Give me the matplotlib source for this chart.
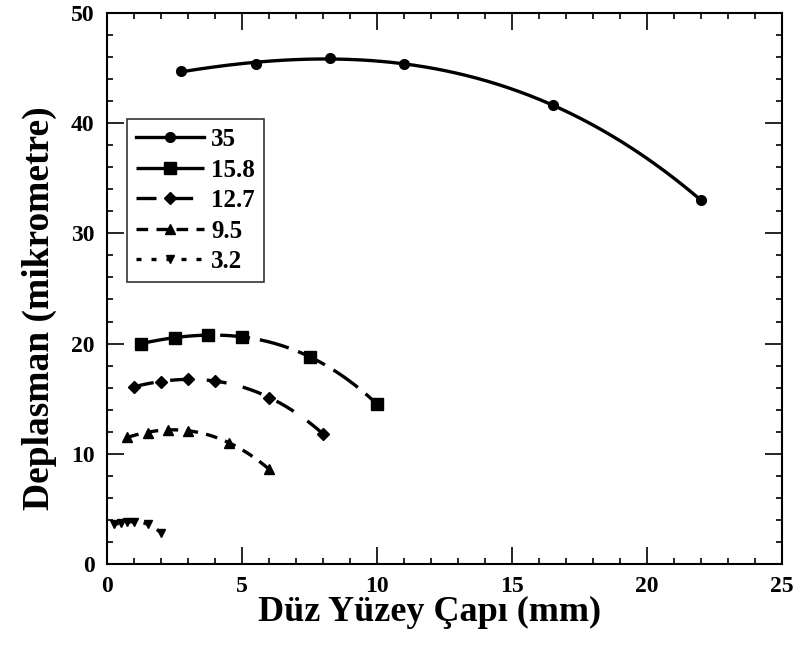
import numpy as np
import matplotlib
matplotlib.use("Agg")
import matplotlib.pyplot as plt
from matplotlib.ticker import MultipleLocator

plt.rcParams['font.family'] = ['Liberation Serif', 'DejaVu Serif']
plt.rcParams['font.weight'] = 'bold'

# Displacement vs. flat surface diameter, one series per load label
labels = ["35", "15.8", "12.7", "9.5", "3.2"]
x_35 = [2.75, 5.5, 8.25, 11.0, 16.5, 22.0]
y_35 = [44.7, 45.4, 45.9, 45.4, 41.6, 33.0]
x_158 = [1.25, 2.5, 3.75, 5.0, 7.5, 10.0]
y_158 = [20.0, 20.5, 20.8, 20.6, 18.8, 14.5]
x_127 = [1.0, 2.0, 3.0, 4.0, 6.0, 8.0]
y_127 = [16.1, 16.5, 16.8, 16.6, 15.1, 11.8]
x_95 = [0.75, 1.5, 2.25, 3.0, 4.5, 6.0]
y_95 = [11.5, 11.9, 12.2, 12.1, 11.0, 8.6]
x_32 = [0.25, 0.5, 0.75, 1.0, 1.5, 2.0]
y_32 = [3.6, 3.7, 3.8, 3.85, 3.6, 2.8]

xs = [x_35, x_158, x_127, x_95, x_32]
ys = [y_35, y_158, y_127, y_95, y_32]
markers = ['o', 's', 'D', '^', 'v']
msizes = [7, 8, 6, 7, 6]
dashes = [None, (9, 3), (6, 5), (3.5, 2.5), (1.5, 3)]

fig = plt.figure(figsize=(7.99, 6.46), dpi=100)
ax = fig.add_axes([0.134, 0.127, 0.845, 0.853])

for lab, x, y, m, ms, d in zip(labels, xs, ys, markers, msizes, dashes):
    x = np.asarray(x)
    y = np.asarray(y)
    # smooth trend curve fitted through each series
    coef = np.polyfit(x, y, 3)
    xf = np.linspace(x.min(), x.max(), 200)
    yf = np.polyval(coef, xf)
    line, = ax.plot(xf, yf, color='black', lw=2.4, zorder=3)
    if d is not None:
        line.set_dashes(d)
    ax.plot(x, y, linestyle='none', marker=m, ms=ms, color='black', zorder=2)
    # legend proxy: line with marker in the middle
    h, = ax.plot([], [], color='black', lw=2.4, marker=m, ms=ms, label=lab)
    if d is not None:
        h.set_dashes(d)

ax.set_xlim(0, 25)
ax.set_ylim(0, 50)
ax.xaxis.set_major_locator(MultipleLocator(5))
ax.xaxis.set_minor_locator(MultipleLocator(1))
ax.yaxis.set_major_locator(MultipleLocator(10))
ax.yaxis.set_minor_locator(MultipleLocator(2))
ax.tick_params(which='both', direction='in', top=True, right=True, width=1.2)
ax.tick_params(which='major', length=12, labelsize=17, pad=9)
ax.tick_params(which='minor', length=4)
for t in ax.get_xticklabels() + ax.get_yticklabels():
    t.set_fontweight('bold')
for s in ax.spines.values():
    s.set_linewidth(1.5)

ax.set_xlabel("Düz Yüzey Çapı (mm)", fontsize=26, fontweight='bold')
ax.xaxis.set_label_coords(0.478, -0.058, transform=ax.transAxes)
ax.xaxis.label.set_va('top')
ax.set_ylabel("Deplasman (mikrometre)", fontsize=27, fontweight='bold')
ax.yaxis.set_label_coords(-0.1, 0.465, transform=ax.transAxes)
ax.yaxis.label.set_va('center')

leg = ax.legend(loc='upper left', bbox_to_anchor=(0.03, 0.807), borderaxespad=0,
                handlelength=2.7, frameon=True, fancybox=False, edgecolor='black',
                borderpad=0.35, labelspacing=0.3, handletextpad=0.3,
                prop={'weight': 'bold', 'size': 18})
leg.get_frame().set_linewidth(1.2)

fig.savefig("out.png", dpi=100)
